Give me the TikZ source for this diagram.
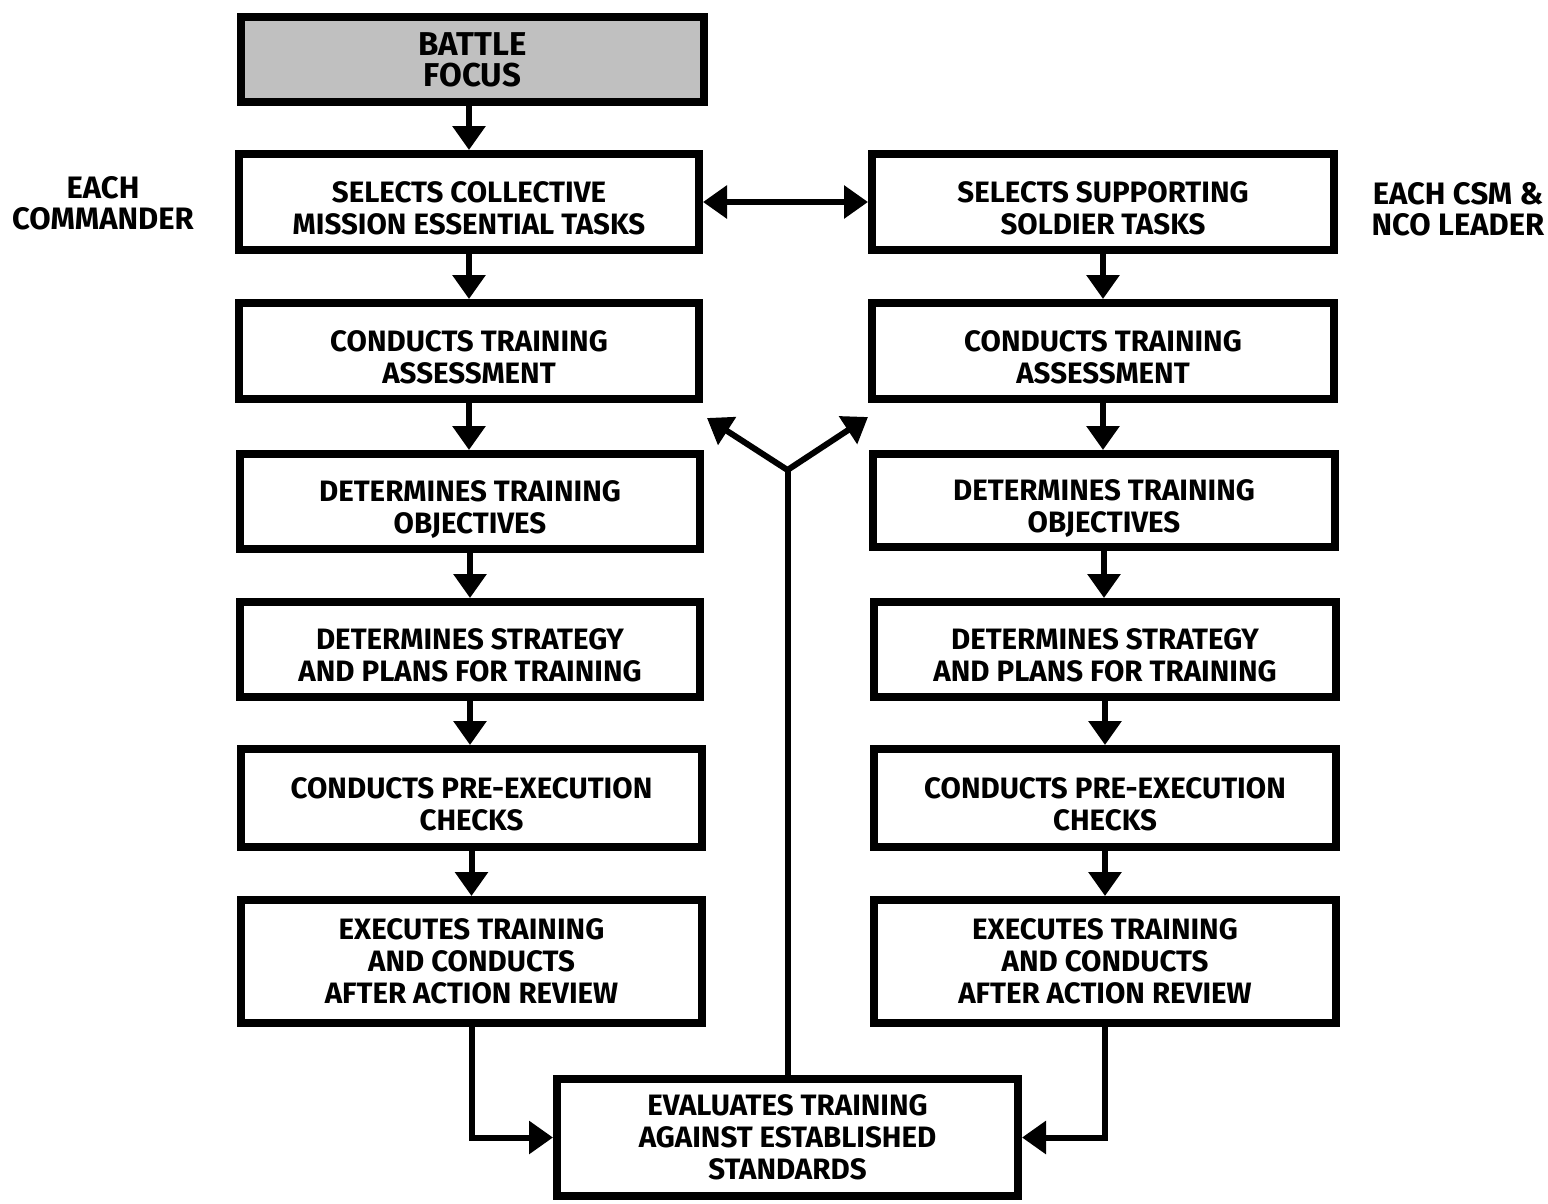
\documentclass[tikz,border=0pt]{standalone}
\usepackage{fontspec}
\setmainfont{Fira Sans}
\usetikzlibrary{arrows.meta}
% two-line box texts sit a little below the box centre
\newcommand\lowtext[1]{\raisebox{-10pt}[\height][\depth]{\begin{tabular}{@{}c@{}}#1\end{tabular}}}
\begin{document}
\begin{tikzpicture}[x=1pt,y=-1pt,
  every node/.style={font=\fontsize{29.5}{32}\selectfont\bfseries, align=center, inner sep=0pt},
  box/.style={draw, line width=8pt, rectangle},
  colbox/.style={box, minimum width=460pt},
  rcolbox/.style={box, minimum width=462pt},
  link/.style={line width=6pt, -{Triangle[length=24pt,width=32pt]}},
  dlink/.style={line width=6pt, {Triangle[length=24pt,width=32pt]}-{Triangle[length=24pt,width=32pt]}},
  side/.style={font=\fontsize{31}{31}\selectfont\bfseries}]
\useasboundingbox (0,0) rectangle (1548,1203);

% top box
\node[box, fill={rgb,255:red,192;green,192;blue,192}, minimum width=463pt, minimum height=85pt,
      font=\fontsize{33}{31}\selectfont\bfseries] (bf) at (472.5,59.5) {BATTLE\\FOCUS};

% commander column
\node[colbox, minimum height=96pt] (l1) at (469,202) {\lowtext{SELECTS COLLECTIVE\\MISSION ESSENTIAL TASKS}};
\node[colbox, minimum height=96pt] (l2) at (469,351) {\lowtext{CONDUCTS TRAINING\\ASSESSMENT}};
\node[colbox, minimum height=95pt] (l3) at (470,501.5) {\lowtext{DETERMINES TRAINING\\OBJECTIVES}};
\node[colbox, minimum height=95pt] (l4) at (470,649.5) {\lowtext{DETERMINES STRATEGY\\AND PLANS FOR TRAINING}};
\node[colbox, minimum height=98pt, minimum width=461pt] (l5) at (471.5,798) {\lowtext{CONDUCTS PRE-EXECUTION\\CHECKS}};
\node[colbox, minimum height=123pt, minimum width=461pt] (l6) at (471.5,961.5) {EXECUTES TRAINING\\AND CONDUCTS\\AFTER ACTION REVIEW};

% CSM / NCO column
\node[rcolbox, minimum height=96pt] (r1) at (1103,202) {\lowtext{SELECTS SUPPORTING\\SOLDIER TASKS}};
\node[rcolbox, minimum height=96pt] (r2) at (1103,351) {\lowtext{CONDUCTS TRAINING\\ASSESSMENT}};
\node[rcolbox, minimum height=93pt] (r3) at (1104,500.5) {\lowtext{DETERMINES TRAINING\\OBJECTIVES}};
\node[rcolbox, minimum height=95pt] (r4) at (1105,649.5) {\lowtext{DETERMINES STRATEGY\\AND PLANS FOR TRAINING}};
\node[rcolbox, minimum height=98pt] (r5) at (1105,798) {\lowtext{CONDUCTS PRE-EXECUTION\\CHECKS}};
\node[rcolbox, minimum height=123pt] (r6) at (1105,961.5) {EXECUTES TRAINING\\AND CONDUCTS\\AFTER ACTION REVIEW};

% evaluation box
\node[box, minimum width=461pt, minimum height=117pt] (ev) at (787.5,1137.5) {EVALUATES TRAINING\\AGAINST ESTABLISHED\\STANDARDS};

% side labels
\node[side] (cmd) at (103,203) {EACH\\COMMANDER};
\node[side] (nco) at (1458,209) {EACH CSM \&\\NCO LEADER};

% column arrows
\draw[link] (bf.south -| l1.north) -- (l1.north);
\foreach \a/\b in {l1/l2,l2/l3,l3/l4,l4/l5,l5/l6}
  \draw[link] (\a.south) -- (\a.south |- \b.north);
\foreach \a/\b in {r1/r2,r2/r3,r3/r4,r4/r5,r5/r6}
  \draw[link] (\a.south) -- (\a.south |- \b.north);

% link between the two selection boxes
\draw[dlink] (l1.east) -- (r1.west);

% feeds into the evaluation
\draw[link] (l6.south) |- (ev.west);
\draw[link] (r6.south) |- (ev.east);

% feedback fork
\coordinate (fork) at (787.5,470);
\coordinate (tipl) at (707,418);
\coordinate (tipr) at (868,417);
\draw[line width=6pt] (ev.north) -- (fork);
\draw[link] (fork) -- (tipl);
\draw[link] (fork) -- (tipr);
\end{tikzpicture}
\end{document}
